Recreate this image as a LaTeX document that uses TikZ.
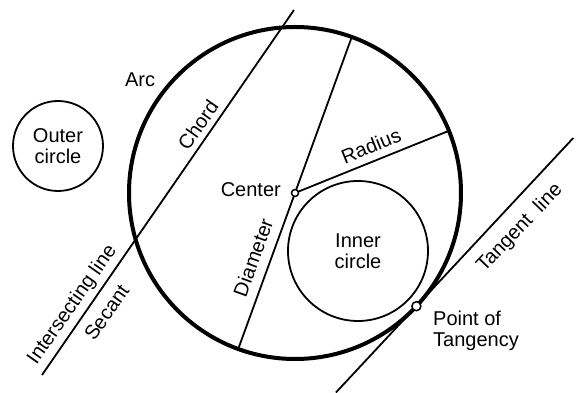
\documentclass[tikz,border=0pt]{standalone}
\usepackage{fontspec}
\setmainfont{Liberation Sans}
\usetikzlibrary{calc}

\begin{document}
\begin{tikzpicture}[x=1pt, y=1pt, font=\fontsize{20}{20.5}\selectfont]
    % Define line widths
    \def\mainWidth{4pt}
    \def\lineWidth{1.8pt}

    % Define main circle
    \def\mainRadius{166}
    \coordinate (O) at (295,200);

    % Fix picture size
    \useasboundingbox (0,0) rectangle (582,393);

    % Define coordinates on the main circle
    \coordinate (D1) at ($(O)+(70:\mainRadius)$);
    \coordinate (D2) at ($(O)+(250:\mainRadius)$);
    \coordinate (R) at ($(O)+(22:\mainRadius)$);
    \coordinate (T) at ($(O)+(-43:\mainRadius)$);

    % Define ends of the secant and tangent lines
    \coordinate (S1) at (42,18);
    \coordinate (S2) at (294,383);
    \coordinate (T1) at ($(T)+(227:118)$);
    \coordinate (T2) at ($(T)+(47:230)$);

    % Draw main circle
    \draw[line width=\mainWidth] (O) circle (\mainRadius);

    % Draw lines
    \draw[line width=\lineWidth] (S1) -- (S2);
    \draw[line width=\lineWidth] (D2) -- (D1);
    \draw[line width=\lineWidth] (O) -- (R);
    \draw[line width=\lineWidth] (T1) -- (T2);

    % Draw inner and outer circles
    \node[circle, draw, line width=\lineWidth, minimum size=140pt, align=center] (inner) at (358,142) {Inner\\circle};
    \node[circle, draw, line width=\lineWidth, minimum size=90pt, align=center] (outer) at (58,247) {Outer\\circle};

    % Draw center and point of tangency
    \filldraw[fill=white, line width=1.5pt] (O) circle (3.5);
    \filldraw[fill=white, line width=1.5pt] (T) circle (4.5);

    % Label the parts
    \node[inner sep=0] (arc) at (140,313) {Arc};
    \node[inner sep=0, rotate=55] (chord) at (198,268) {Chord};
    \node[inner sep=0, anchor=base east] (center) at (281,196) {Center};
    \node[inner sep=0, rotate=22] (radius) at (371,247) {Radius};
    \node[inner sep=0, rotate=70] (diameter) at (253,135.5) {Diameter};
    \node[inner sep=0, rotate=55] (intersecting) at (72.5,88) {Intersecting line};
    \node[inner sep=0, rotate=55] (secant) at (106.5,80.5) {Secant};
    \node[inner sep=0, rotate=46] (tangent) at (520,165) {Tangent\ \ line};
    \node[inner sep=0, anchor=north west, align=left] (point) at (433,82) {Point of\\Tangency};

\end{tikzpicture}
\end{document}
